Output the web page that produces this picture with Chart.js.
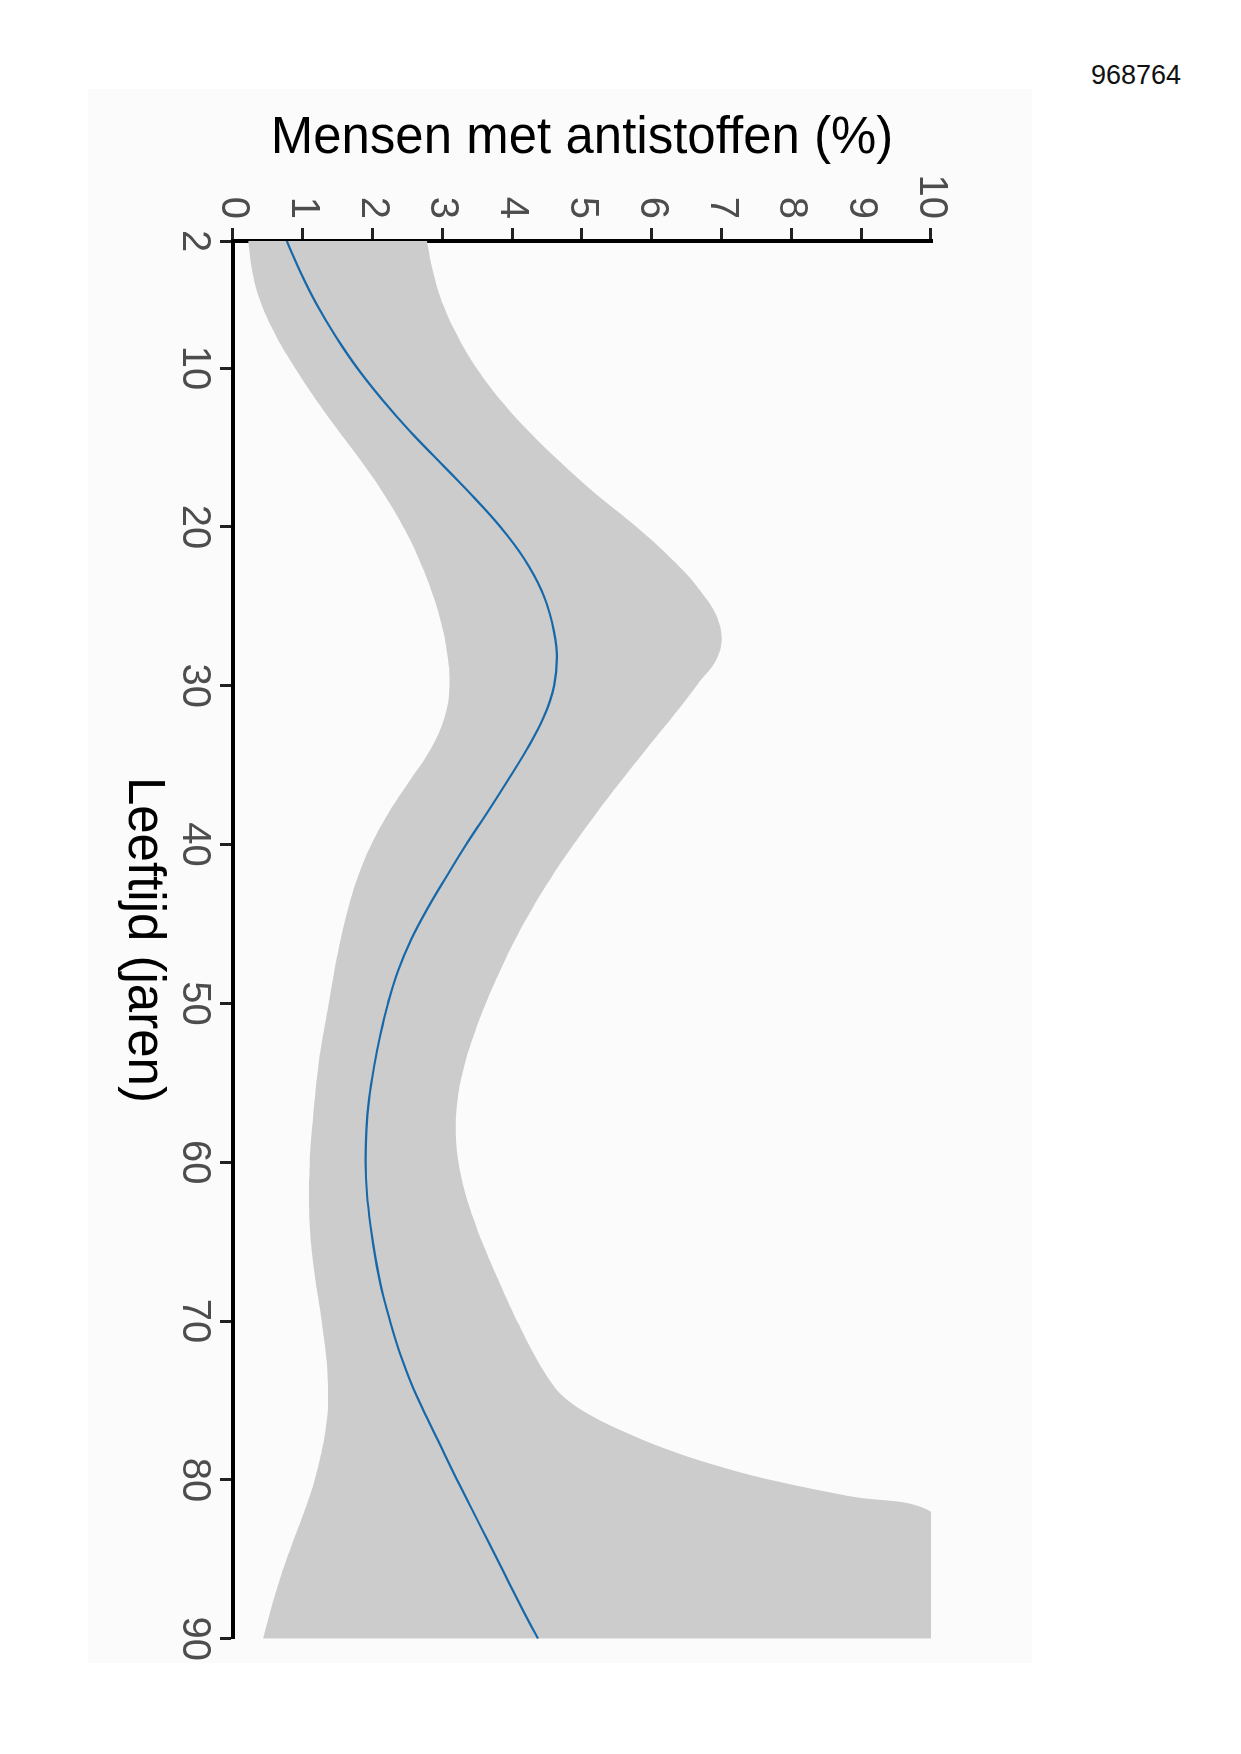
<!DOCTYPE html>
<html lang="nl">
<head>
<meta charset="utf-8">
<title>Mensen met antistoffen (%)</title>
<script src="https://cdn.jsdelivr.net/npm/chart.js@4/dist/chart.umd.min.js"></script>
<style>
  html, body { margin: 0; padding: 0; background: #fff; }
  body { width: 1241px; height: 1754px; position: relative; overflow: hidden; font-family: "Liberation Sans", Arial, sans-serif; }
  #figuurnr { position: absolute; right: 60px; top: 62px; font-size: 27px; line-height: 27px; color: #111; }
  /* de grafiek is een kwartslag gedraaid (met de klok mee) */
  #draai { position: absolute; left: 88px; top: 89px; width: 1574px; height: 944px;
           transform-origin: 0 0; transform: translate(944px, 0) rotate(90deg); background: #fbfbfb; }
</style>
</head>
<body>
<div id="figuurnr">968764</div>
<div id="draai"><canvas id="grafiek" width="1574" height="944"></canvas></div>
<script>
// leeftijd (jaren) en geschat percentage met antistoffen
const leeftijden = [2, 4, 6, 8, 10, 12, 14, 16, 18, 20, 22, 24, 26, 28, 30, 32, 34, 36, 38, 40, 42, 44, 46,
                    48, 50, 52, 54, 56, 58, 60, 62, 64, 66, 68, 70, 72, 74, 76, 78, 80, 82, 84, 86, 88, 90];
const schatting = [0.77, 0.97, 1.20, 1.47, 1.78, 2.14, 2.54, 2.98, 3.42, 3.83, 4.17, 4.42, 4.57, 4.64, 4.60,
                   4.45, 4.21, 3.93, 3.64, 3.34, 3.06, 2.79, 2.55, 2.36, 2.22, 2.11, 2.02, 1.95, 1.91, 1.90,
                   1.92, 1.97, 2.04, 2.13, 2.25, 2.39, 2.56, 2.77, 2.99, 3.21, 3.44, 3.67, 3.90, 4.13, 4.37];

// betrouwbaarheidsband (vanaf 82 jaar afgekapt op 10%)
const bandLeeftijden = [2, 4, 6, 8, 10, 12, 14, 16, 18, 20, 22, 24, 26, 28, 30, 32, 34, 36, 38, 40, 42, 44,
                        46, 48, 50, 52, 54, 56, 58, 60, 62, 64, 66, 68, 70, 72, 74, 75, 76, 77, 78, 79, 80,
                        81, 82, 84, 86, 88, 90];
const ondergrens = [0.22, 0.28, 0.41, 0.62, 0.89, 1.19, 1.52, 1.86, 2.17, 2.44, 2.66, 2.84, 2.98, 3.07, 3.10,
                    3.03, 2.83, 2.53, 2.23, 1.98, 1.79, 1.65, 1.54, 1.45, 1.37, 1.29, 1.22, 1.17, 1.13, 1.10,
                    1.09, 1.10, 1.14, 1.20, 1.27, 1.33, 1.36, 1.36, 1.35, 1.32, 1.28, 1.23, 1.17, 1.10,
                    1.02, 0.85, 0.69, 0.55, 0.43];
const bovengrens = [2.78, 2.87, 3.01, 3.22, 3.49, 3.83, 4.24, 4.71, 5.22, 5.78, 6.28, 6.69, 6.96, 6.96, 6.64,
                    6.29, 5.92, 5.56, 5.21, 4.88, 4.57, 4.29, 4.04, 3.82, 3.62, 3.45, 3.31, 3.22, 3.19, 3.23,
                    3.33, 3.48, 3.66, 3.86, 4.07, 4.30, 4.58, 4.80, 5.15, 5.62, 6.17, 6.85, 7.70, 8.80,
                    10, 10, 10, 10, 10];

const leeftijdTicks = [2, 10, 20, 30, 40, 50, 60, 70, 80, 90];
const procentTicks = [0, 1, 2, 3, 4, 5, 6, 7, 8, 9, 10];

const punten = (xs, ys) => xs.map((x, i) => ({ x: x, y: ys[i] }));
const lettertype = 'Liberation Sans';

new Chart(document.getElementById('grafiek'), {
  type: 'line',
  data: {
    datasets: [
      // de lijn als eerste dataset, zodat hij boven de band getekend wordt
      { data: punten(leeftijden, schatting), borderColor: '#1768a9', borderWidth: 2.2, pointRadius: 0,
        fill: false, tension: 0.4 },
      { data: punten(bandLeeftijden, ondergrens), borderWidth: 0, pointRadius: 0, fill: false,
        tension: 0.4 },
      // geen afgetopte controlepunten: wat boven 10% uitkomt valt buiten het plotvlak weg
      { data: punten(bandLeeftijden, bovengrens), borderWidth: 0, pointRadius: 0, fill: '-1',
        backgroundColor: '#cccccc', tension: 0.4, capBezierPoints: false }
    ]
  },
  options: {
    responsive: false,
    animation: false,
    devicePixelRatio: 1,
    layout: { padding: { top: 101, right: 24, bottom: 0, left: 0 } },
    plugins: { legend: { display: false }, tooltip: { enabled: false } },
    scales: {
      x: {
        type: 'linear', position: 'bottom', min: 2, max: 90,
        afterBuildTicks: s => { s.ticks = leeftijdTicks.map(v => ({ value: v })); },
        afterFit: s => { s.height = 145; },
        ticks: { font: { family: lettertype, size: 40 }, color: '#4d4d4d', padding: 2,
                 maxRotation: 0, autoSkip: false },
        grid: { drawOnChartArea: false, drawTicks: true, tickLength: 13, tickWidth: 3, tickColor: '#222' },
        border: { display: true, color: '#000', width: 4 },
        title: { display: true, text: 'Leeftijd (jaren)', color: '#000',
                 font: { family: lettertype, size: 51 }, padding: { top: 0, bottom: 24 } }
      },
      y: {
        type: 'linear', position: 'left', min: 0, max: 10,
        afterBuildTicks: s => { s.ticks = procentTicks.map(v => ({ value: v })); },
        afterFit: s => { s.width = 152; },
        ticks: { font: { family: lettertype, size: 40 }, color: '#4d4d4d', padding: 9 },
        grid: { drawOnChartArea: false, drawTicks: true, tickLength: 13, tickWidth: 3, tickColor: '#222' },
        border: { display: true, color: '#000', width: 4 },
        title: { display: true, text: 'Mensen met antistoffen (%)', color: '#000',
                 font: { family: lettertype, size: 51 }, padding: { top: 19, bottom: 0 } }
      }
    }
  }
});
</script>
</body>
</html>
